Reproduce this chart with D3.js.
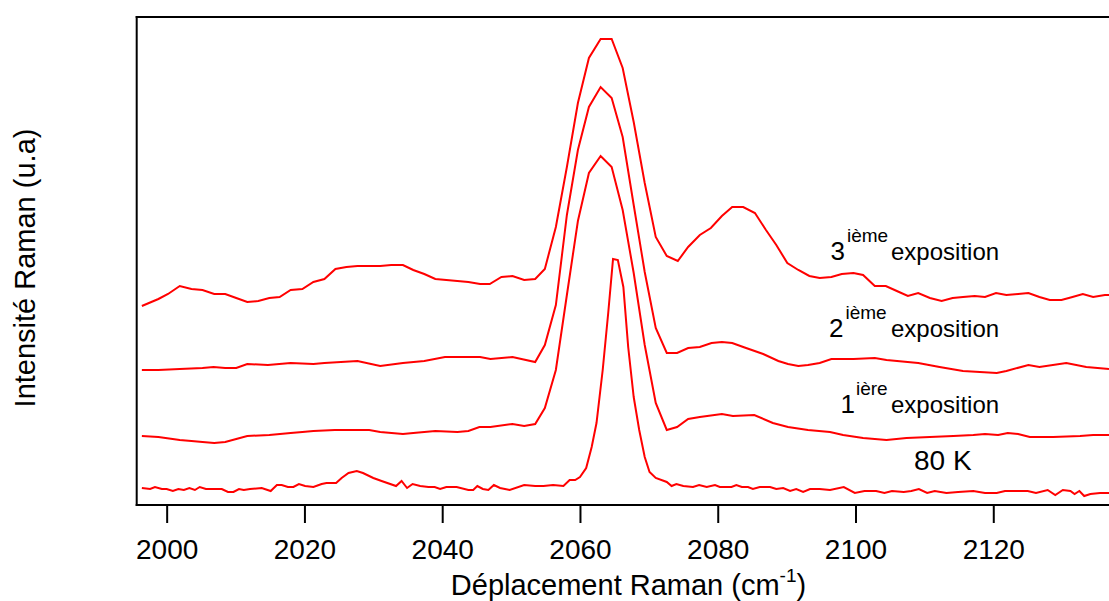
<!DOCTYPE html>
<html>
<head>
<meta charset="utf-8">
<script src="https://cdn.jsdelivr.net/npm/d3@7"></script>
<style>
  html, body { margin: 0; padding: 0; background: #fff; }
  svg { display: block; }
  text { font-family: "Liberation Sans", Arial, Helvetica, sans-serif; fill: #000; }
</style>
</head>
<body>
<svg id="chart" width="1109" height="601"></svg>
<script>
// ---------------- data (wavenumber cm-1, intensity a.u.) ----------------
const xTicks = [2000, 2020, 2040, 2060, 2080, 2100, 2120];

const series80K = [[1996.4,17],[1997.6,16],[1998.3,18],[1999.3,16],[2000.0,16],[2000.9,14],[2001.7,16],[2002.5,15],[2003.3,17],[2004.1,15],[2004.8,18],[2005.7,16],[2008.0,16],[2008.9,13],[2009.7,13],[2010.5,16],[2011.2,15],[2012.1,16],[2013.8,17],[2015.1,14],[2016.0,20],[2016.7,20],[2017.6,18],[2018.4,18],[2019.2,21],[2020.1,19],[2021.3,18],[2022.5,21],[2023.2,22],[2024.6,22],[2025.4,27],[2026.4,32],[2027.6,34],[2028.5,32],[2030.0,27],[2031.2,24],[2033.3,19],[2034.1,24],[2034.9,17],[2035.7,21],[2036.8,19],[2038.0,18],[2038.9,18],[2039.7,16],[2040.6,18],[2042.1,18],[2043.8,15],[2044.5,15],[2045.1,19],[2045.9,16],[2046.7,15],[2047.5,20],[2048.4,17],[2049.8,15],[2051.9,20],[2053.5,19],[2054.7,19],[2056.1,20],[2057.6,19],[2058.5,25],[2059.3,25],[2060.0,28],[2060.9,37],[2061.7,58],[2062.4,82],[2063.3,135],[2064.1,192],[2064.8,246],[2065.5,245],[2066.3,218],[2067.0,158],[2067.8,108],[2068.6,75],[2069.4,48],[2070.1,33],[2071.0,27],[2072.6,23],[2073.3,19],[2074.0,21],[2075.0,19],[2076.4,18],[2077.3,20],[2078.4,18],[2079.6,20],[2080.3,18],[2082.0,18],[2082.7,20],[2083.5,18],[2084.4,18],[2085.1,16],[2086.1,18],[2087.6,18],[2088.5,16],[2089.5,17],[2090.5,14],[2091.4,16],[2092.4,13],[2093.4,16],[2094.8,16],[2096.3,15],[2098.3,18],[2099.9,12],[2101.3,14],[2103.0,14],[2104.2,12],[2105.3,14],[2107.0,13],[2108.1,14],[2109.2,16],[2110.4,12],[2111.5,14],[2113.2,12],[2114.9,13],[2117.1,14],[2118.8,12],[2120.5,12],[2121.7,14],[2123.3,14],[2125.0,14],[2126.2,12],[2127.9,15],[2129.0,10],[2130.1,15],[2131.2,14],[2131.8,11],[2132.5,14],[2133.2,9],[2134.1,11],[2135.5,12],[2136.8,12]];

const seriesExpo1 = [[1996.4,69],[1998.8,68],[2001.9,65],[2003.6,64],[2005.2,63],[2006.9,62],[2008.5,63],[2010.1,66],[2011.7,69],[2014.9,70],[2018.0,72],[2019.7,73],[2021.3,74],[2024.4,75],[2026.1,75],[2029.4,75],[2031.0,73],[2034.3,71],[2035.8,72],[2039.0,74],[2042.2,73],[2043.8,74],[2045.4,78],[2047.0,78],[2050.2,81],[2051.9,79],[2053.5,81],[2054.9,97],[2056.5,135],[2058.1,210],[2059.7,284],[2061.3,332],[2063.0,349],[2064.6,338],[2066.2,295],[2067.8,232],[2069.4,160],[2071.0,102],[2072.6,75],[2074.1,78],[2075.7,86],[2077.4,88],[2080.6,91],[2082.2,89],[2085.3,90],[2088.0,82],[2090.2,78],[2093.1,75],[2096.3,73],[2098.2,70],[2101.1,67],[2104.5,65],[2107.4,67],[2110.8,68],[2114.2,69],[2117.1,70],[2118.8,71],[2120.7,70],[2122.1,72],[2123.6,71],[2125.3,68],[2128.7,68],[2132.6,69],[2134.5,70],[2136.8,70]];

const seriesExpo2 = [[1996.4,135],[1998.8,135],[2001.9,136],[2005.2,137],[2006.8,138],[2008.5,137],[2010.1,137],[2011.7,141],[2014.7,140],[2018.0,142],[2021.3,141],[2022.9,142],[2027.7,144],[2031.0,139],[2034.3,142],[2037.4,144],[2040.4,148],[2045.5,148],[2047.0,146],[2050.2,148],[2053.5,143],[2054.9,160],[2056.5,200],[2058.1,290],[2059.7,355],[2061.3,398],[2063.0,418],[2064.6,407],[2066.2,368],[2067.8,300],[2069.4,233],[2071.0,177],[2072.6,152],[2074.1,152],[2075.7,157],[2077.4,158],[2079.1,162],[2080.6,163],[2082.1,162],[2083.7,158],[2086.6,151],[2088.8,144],[2090.2,141],[2091.7,139],[2093.1,140],[2094.8,142],[2096.5,146],[2099.7,146],[2102.8,147],[2104.5,145],[2109.1,142],[2112.2,138],[2115.6,134],[2120.5,132],[2121.9,134],[2125.1,140],[2126.7,138],[2130.6,142],[2133.5,138],[2136.8,136]];

const seriesExpo3 = [[1996.4,199],[1998.8,206],[2000.2,211],[2001.9,219],[2003.6,216],[2005.2,215],[2006.9,211],[2008.5,211],[2010.1,207],[2011.7,203],[2013.3,204],[2014.9,207],[2016.4,208],[2018.0,215],[2019.7,216],[2021.3,223],[2022.9,226],[2024.5,236],[2026.1,238],[2027.7,239],[2029.3,239],[2031.0,239],[2032.6,240],[2034.3,240],[2035.8,235],[2037.4,231],[2039.0,226],[2040.6,225],[2042.2,224],[2043.8,223],[2045.5,221],[2046.9,221],[2048.6,228],[2050.2,229],[2051.9,225],[2053.5,226],[2054.9,236],[2056.5,278],[2058.1,338],[2059.7,402],[2061.3,447],[2063.0,466],[2064.6,466],[2066.2,437],[2067.8,383],[2069.4,322],[2071.0,268],[2072.6,249],[2074.2,244],[2075.7,258],[2077.4,270],[2079.0,277],[2080.6,289],[2082.1,298],[2083.7,298],[2085.4,292],[2087.0,275],[2088.5,260],[2090.1,242],[2091.7,235],[2093.3,229],[2094.8,227],[2096.5,228],[2098.0,231],[2099.7,232],[2101.1,230],[2102.8,219],[2104.4,219],[2106.0,214],[2107.6,209],[2109.1,212],[2110.8,207],[2112.5,204],[2114.1,207],[2115.6,208],[2117.3,209],[2118.8,208],[2120.4,212],[2121.9,210],[2123.6,211],[2125.1,212],[2126.7,208],[2128.2,205],[2129.9,205],[2131.5,208],[2133.0,211],[2134.5,208],[2136.2,210],[2137.8,210]];

const allSeries = [series80K, seriesExpo1, seriesExpo2, seriesExpo3];

// ---------------- layout ----------------
const svg = d3.select("#chart");
const plot = { left: 136.7, right: 1109, top: 17, bottom: 505 };

const x = d3.scaleLinear().domain([1995.65, 2136.8]).range([plot.left, plot.right]);
const y = d3.scaleLinear().domain([0, 488]).range([plot.bottom, plot.top]);

svg.append("defs").append("clipPath").attr("id", "clip")
  .append("rect")
  .attr("x", plot.left).attr("y", plot.top)
  .attr("width", plot.right - plot.left).attr("height", plot.bottom - plot.top);

const line = d3.line().x(d => x(d[0])).y(d => y(d[1]));

svg.append("g").attr("clip-path", "url(#clip)")
  .selectAll("path").data(allSeries).join("path")
  .attr("d", line)
  .attr("fill", "none")
  .attr("stroke", "#ff0000")
  .attr("stroke-width", 2)
  .attr("stroke-linejoin", "miter");

// x axis
const xAxis = d3.axisBottom(x).tickValues(xTicks).tickSize(18).tickFormat(d3.format("d"));
const gx = svg.append("g").attr("transform", `translate(0,${plot.bottom})`).call(xAxis);
gx.select(".domain").remove();
gx.selectAll(".tick line").attr("stroke", "#000").attr("stroke-width", 2);
gx.selectAll(".tick text")
  .attr("y", 53.5).attr("dy", null)
  .attr("font-size", 28)
  .style("font-family", '"Liberation Sans", Arial, sans-serif')
  .attr("fill", "#000");

// frame: left, top, bottom
const frame = svg.append("g").attr("stroke", "#000").attr("stroke-width", 2).attr("fill", "none");
frame.append("line").attr("x1", plot.left).attr("x2", plot.left).attr("y1", plot.top - 1).attr("y2", plot.bottom + 1);
frame.append("line").attr("x1", plot.left - 1).attr("x2", plot.right).attr("y1", plot.top).attr("y2", plot.top);
frame.append("line").attr("x1", plot.left - 1).attr("x2", plot.right).attr("y1", plot.bottom).attr("y2", plot.bottom);

// axis titles
const xt = svg.append("text").attr("x", 628.5).attr("y", 595)
  .attr("text-anchor", "middle").attr("font-size", 29);
xt.append("tspan").text("Déplacement Raman (cm");
xt.append("tspan").attr("dy", -13).attr("font-size", 19).text("-1");
xt.append("tspan").attr("dy", 13).text(")");

svg.append("text")
  .attr("transform", "translate(35,268) rotate(-90)")
  .attr("text-anchor", "middle").attr("font-size", 29)
  .text("Intensité Raman (u.a)");

// annotations
const labels = [
  { num: "3", sup: "ième", numX: 830.5, supX: 847, base: 260 },
  { num: "2", sup: "ième", numX: 829, supX: 845.5, base: 337 },
  { num: "1", sup: "ière", numX: 840.5, supX: 856, base: 413 }
];
labels.forEach(l => {
  svg.append("text").attr("x", l.numX).attr("y", l.base).attr("font-size", 26).text(l.num);
  svg.append("text").attr("x", l.supX).attr("y", l.base - 18.5).attr("font-size", 19).text(l.sup);
  svg.append("text").attr("x", 891).attr("y", l.base - 0.5).attr("font-size", 24).text("exposition");
});
svg.append("text").attr("x", 914).attr("y", 470).attr("font-size", 28).text("80 K");
</script>
</body>
</html>
